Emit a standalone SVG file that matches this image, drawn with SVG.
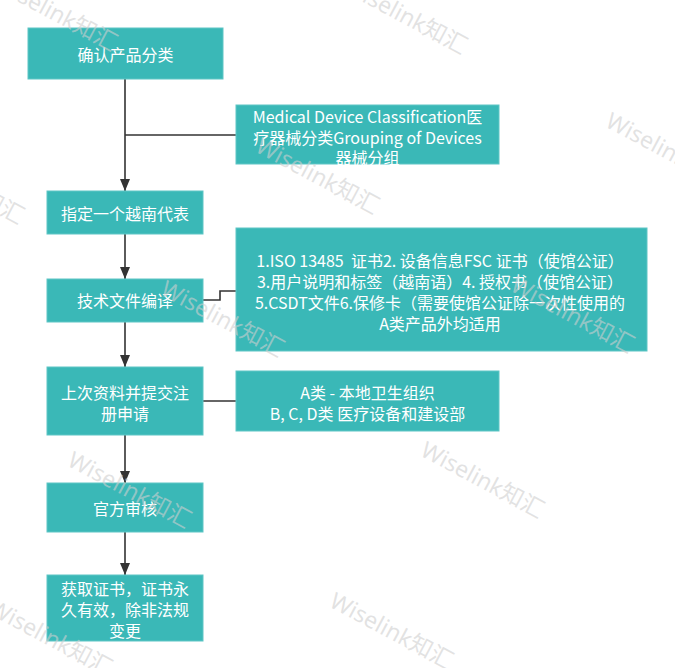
<svg xmlns="http://www.w3.org/2000/svg" width="675" height="668" viewBox="0 0 675 668">
<style>
.box{fill:#3ab8b7;stroke:#5ec6c5;stroke-width:1}
.t{font-family:"Noto Sans CJK SC","Noto Sans",sans-serif;font-size:16px;fill:#ffffff;text-anchor:middle;dominant-baseline:central;white-space:pre}
.c{fill:none;stroke:#333333;stroke-width:1.6}
.wm{font-family:"Noto Sans","Noto Sans CJK SC",sans-serif;font-size:23px;fill:#cfcfcf;fill-opacity:0.6}
</style>
<defs>
<marker id="arr" viewBox="0 0 12 10" refX="12" refY="5" markerWidth="12" markerHeight="10" markerUnits="userSpaceOnUse" orient="auto">
<path d="M0,0 L12,5 L0,10 Z" fill="#333333"/>
</marker>
</defs>
<rect width="675" height="668" fill="#ffffff"/>
<g id="connectors">
<path class="c" d="M125,79 V191" marker-end="url(#arr)"/>
<path class="c" d="M125,135 H236"/>
<path class="c" d="M125,234 V279" marker-end="url(#arr)"/>
<path class="c" d="M203,300 H220 V291 H236"/>
<path class="c" d="M125,322 V367" marker-end="url(#arr)"/>
<path class="c" d="M203,401 H236"/>
<path class="c" d="M125,435 V483" marker-end="url(#arr)"/>
<path class="c" d="M125,532 V575" marker-end="url(#arr)"/>
</g>
<g id="n1"><rect class="box" x="28" y="28" width="195" height="51"/><text class="t" x="125.5" y="54">确认产品分类</text></g>
<g id="n2"><rect class="box" x="236" y="105" width="263" height="59"/>
<text class="t" x="367.5" y="116">Medical Device Classification医</text>
<text class="t" x="367.5" y="137">疗器械分类Grouping of Devices</text>
<text class="t" x="367.5" y="157">器械分组</text></g>
<g id="n3"><rect class="box" x="47" y="191" width="156" height="43"/><text class="t" x="125" y="213">指定一个越南代表</text></g>
<g id="n4"><rect class="box" x="47" y="279" width="156" height="43"/><text class="t" x="125" y="300">技术文件编译</text></g>
<g id="n5"><rect class="box" x="236" y="228" width="411" height="123"/>
<text class="t" x="440" y="260">1.ISO 13485  证书2. 设备信息FSC 证书（使馆公证）</text>
<text class="t" x="440" y="281">3.用户说明和标签（越南语）4. 授权书（使馆公证）</text>
<text class="t" x="440" y="302">5.CSDT文件6.保修卡（需要使馆公证除一次性使用的</text>
<text class="t" x="440" y="323">A类产品外均适用</text></g>
<g id="n6"><rect class="box" x="47" y="367" width="156" height="68"/>
<text class="t" x="125" y="392">上次资料并提交注</text>
<text class="t" x="125" y="413">册申请</text></g>
<g id="n7"><rect class="box" x="236" y="371" width="263" height="60"/>
<text class="t" x="367.5" y="392">A类 - 本地卫生组织</text>
<text class="t" x="367.5" y="413">B, C, D类 医疗设备和建设部</text></g>
<g id="n8"><rect class="box" x="47" y="483" width="156" height="49"/><text class="t" x="125" y="508">官方审核</text></g>
<g id="n9"><rect class="box" x="47" y="575" width="156" height="66"/>
<text class="t" x="125" y="588">获取证书，证书永</text>
<text class="t" x="125" y="609">久有效，除非法规</text>
<text class="t" x="125" y="630">变更</text></g>
<g id="watermarks">
<text class="wm" transform="translate(-8,-12) rotate(28)">Wiselink知汇</text>
<text class="wm" transform="translate(342,-9) rotate(28)">Wiselink知汇</text>
<text class="wm" transform="translate(254,151) rotate(28)">Wiselink知汇</text>
<text class="wm" transform="translate(604,126) rotate(28)">Wiselink知汇</text>
<text class="wm" transform="translate(-101,161) rotate(28)">Wiselink知汇</text>
<text class="wm" transform="translate(159,294) rotate(28)">Wiselink知汇</text>
<text class="wm" transform="translate(509,290) rotate(28)">Wiselink知汇</text>
<text class="wm" transform="translate(66,465) rotate(28)">Wiselink知汇</text>
<text class="wm" transform="translate(419,455) rotate(28)">Wiselink知汇</text>
<text class="wm" transform="translate(-13,613) rotate(28)">Wiselink知汇</text>
<text class="wm" transform="translate(328,606) rotate(28)">Wiselink知汇</text>
</g>
</svg>
